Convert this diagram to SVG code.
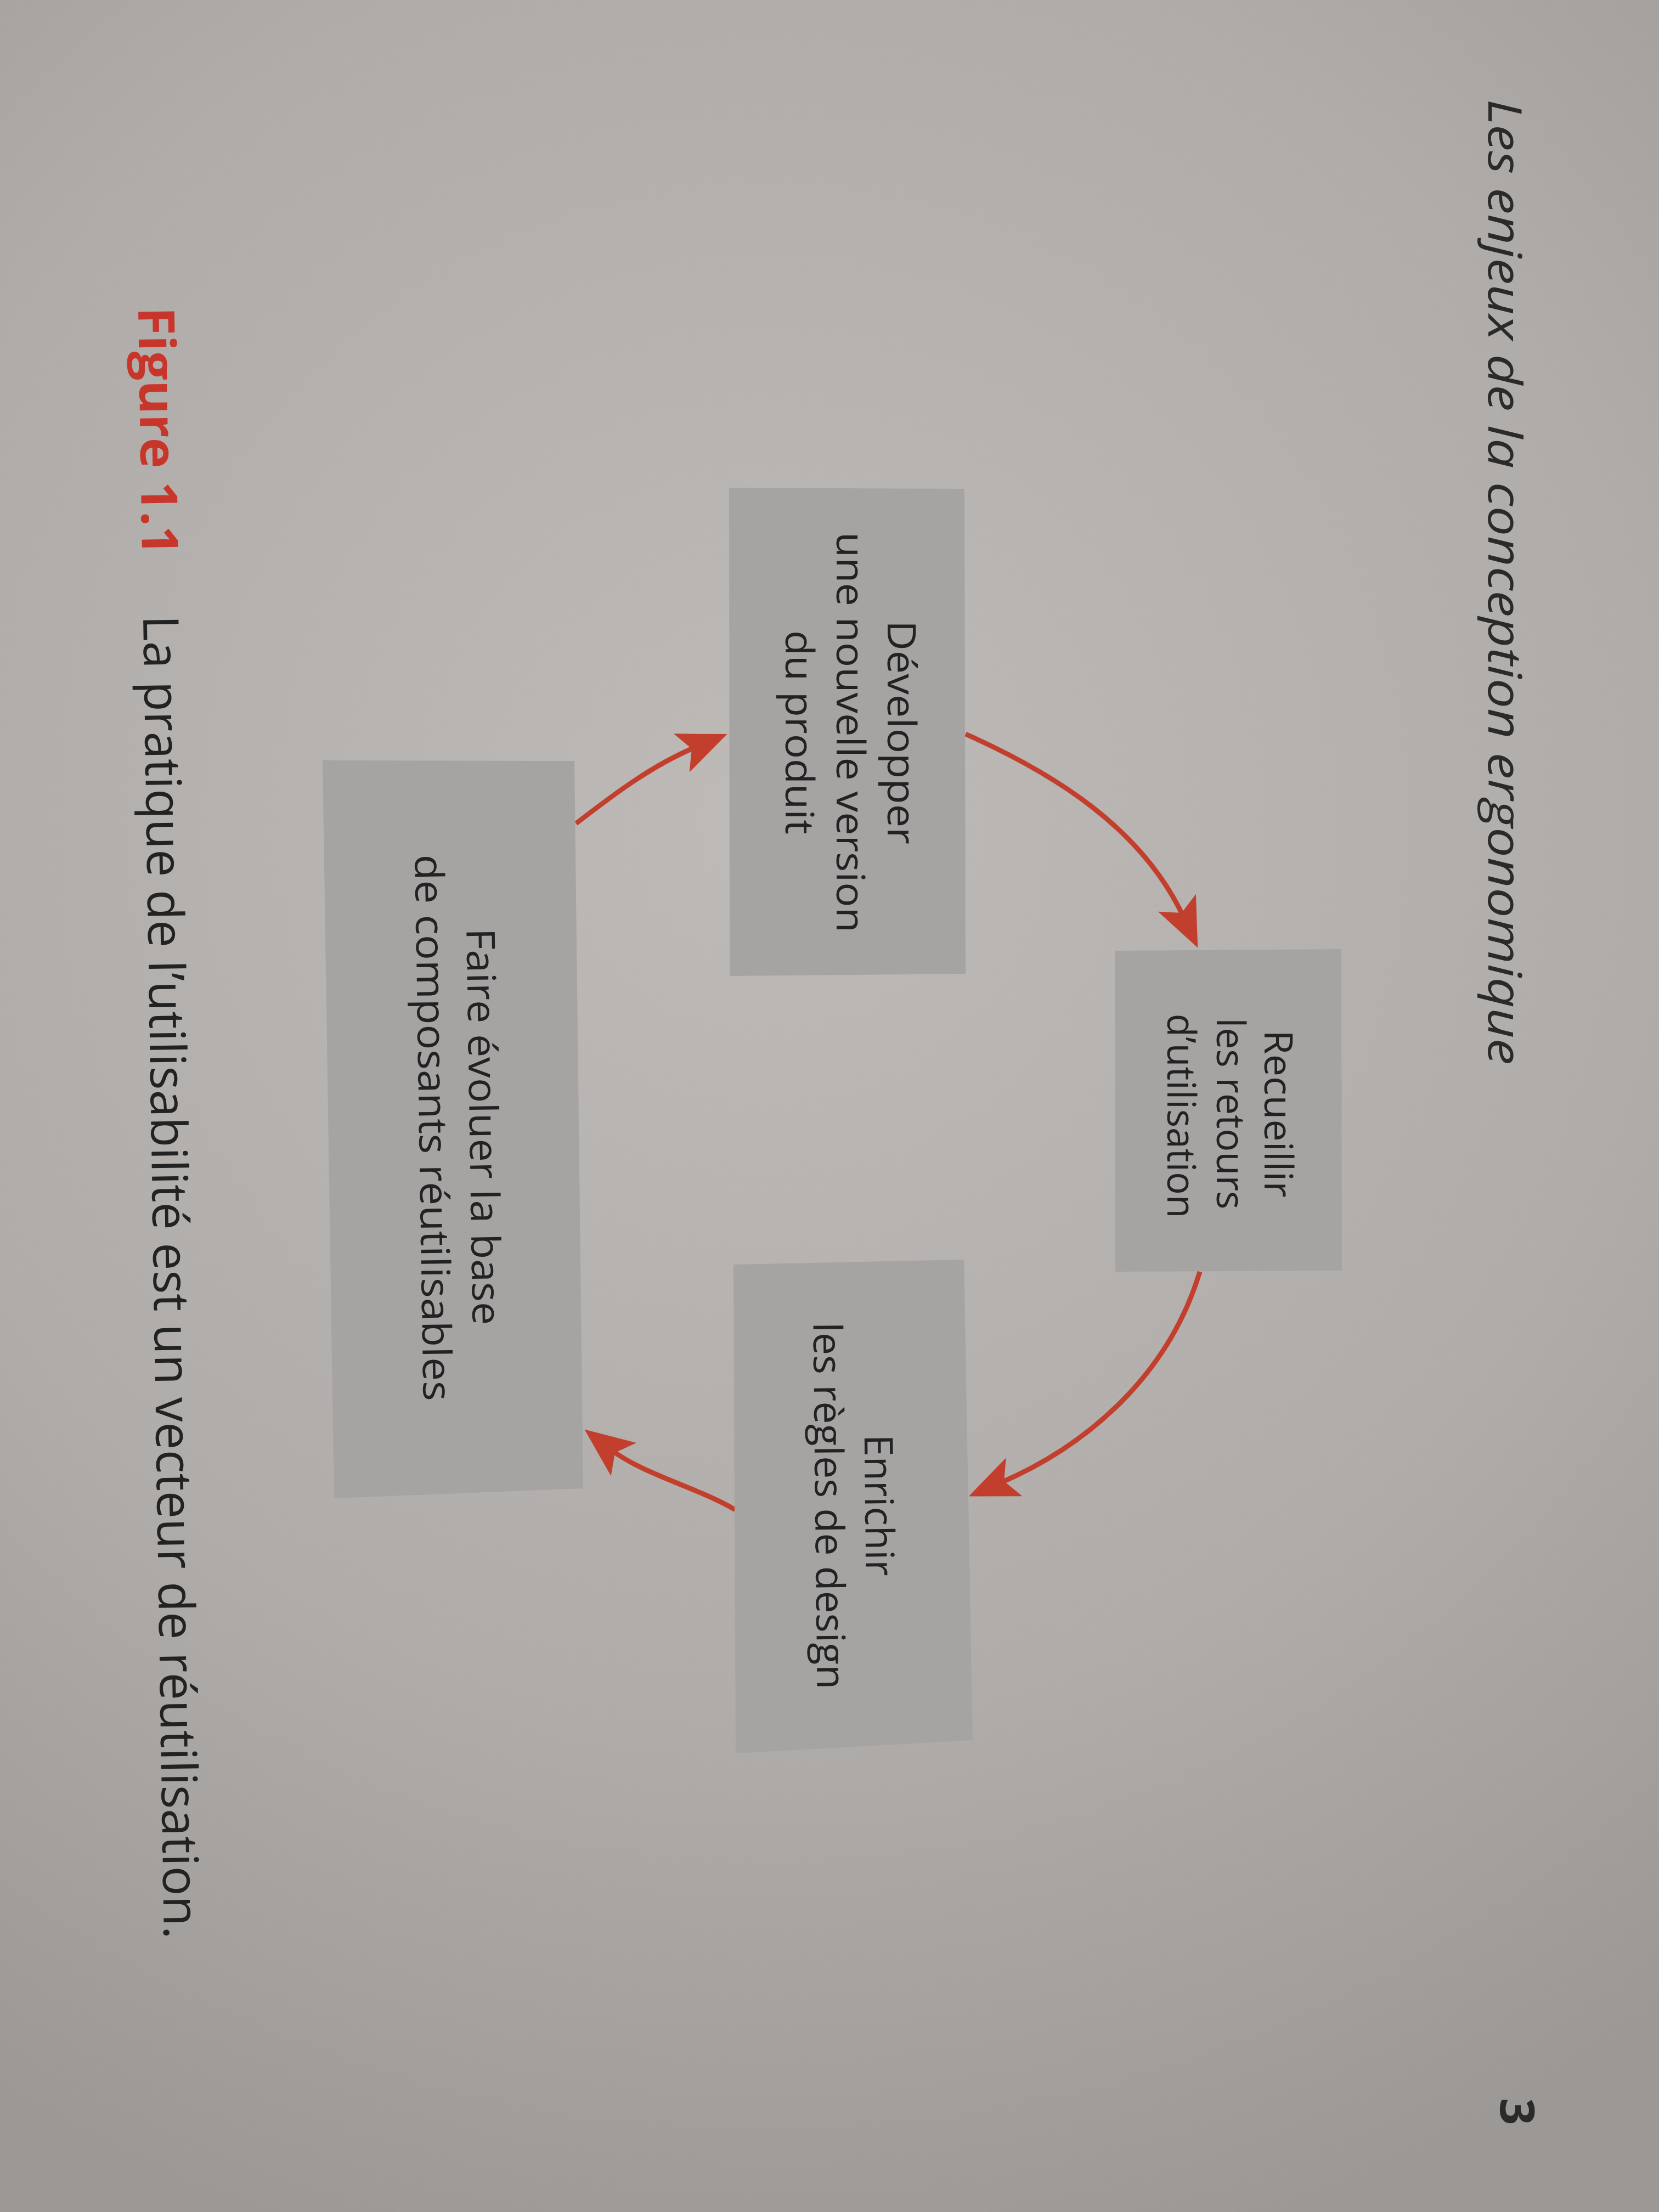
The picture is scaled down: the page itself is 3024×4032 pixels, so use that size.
<svg xmlns="http://www.w3.org/2000/svg" width="3024" height="4032" viewBox="0 0 3024 4032">
<defs>
<radialGradient id="paper" cx="1400" cy="1500" r="2700" gradientUnits="userSpaceOnUse">
<stop offset="0" stop-color="#bebab7"/>
<stop offset="0.6" stop-color="#b0aca9"/>
<stop offset="1" stop-color="#9c9895"/>
</radialGradient>
<marker id="ah" markerUnits="userSpaceOnUse" viewBox="0 -40 92 80" markerWidth="92" markerHeight="80" refX="30" refY="0" orient="auto">
<path d="M90,0 L0,-38 L20,0 L0,38 Z" fill="#c23f2e"/>
</marker>
<style>
.box{fill:#a6a3a3}
.lbl{font-family:"Open Sans","Noto Sans","Liberation Sans",sans-serif;font-size:72px;fill:#222222;text-anchor:middle}
.conn{fill:none;stroke:#c23f2e;stroke-width:9;marker-end:url(#ah)}
.head{font-family:"Open Sans","Noto Sans","Liberation Sans",sans-serif;font-style:italic;font-size:84px;fill:#2a2a2a}
.pnum{font-family:"Open Sans","Noto Sans","Liberation Sans",sans-serif;font-weight:bold;font-size:86px;fill:#2a2a2a;text-anchor:middle}
.figno{font-family:"Open Sans","Noto Sans","Liberation Sans",sans-serif;font-weight:bold;font-size:92px;fill:#c8352b}
.cap{font-family:"Open Sans","Noto Sans","Liberation Sans",sans-serif;font-size:90px;fill:#222222}
</style>
</defs>
<rect width="3024" height="4032" fill="url(#paper)"/>

<g id="page-header">
<text class="head" transform="translate(2713,181) rotate(90)" textLength="1760" lengthAdjust="spacingAndGlyphs">Les enjeux de la conception ergonomique</text>
<text class="pnum" transform="translate(2735,3849) rotate(90)">3</text>
</g>

<g id="connectors">
<path class="conn" d="M1760,1338 C1924,1411 2083,1511 2158,1673"/>
<path class="conn" d="M2187,2318 C2132,2501 1988,2633 1821,2704"/>
<path class="conn" d="M1340,2752 C1276,2713 1173,2688 1113,2642"/>
<path class="conn" d="M1050,1501 C1120,1447 1190,1394 1270,1361"/>
</g>

<g id="node-developper">
<polygon class="box" points="1329,889 1758,891 1760,1775 1330,1779"/>
<text class="lbl" transform="translate(1618,1335) rotate(90)" textLength="408" lengthAdjust="spacingAndGlyphs">Développer</text>
<text class="lbl" transform="translate(1525,1335) rotate(90)" textLength="730" lengthAdjust="spacingAndGlyphs">une nouvelle version</text>
<text class="lbl" transform="translate(1432,1335) rotate(90)" textLength="372" lengthAdjust="spacingAndGlyphs">du produit</text>
</g>

<g id="node-recueillir">
<polygon class="box" points="2032,1733 2445,1730 2446,2316 2033,2318"/>
<text class="lbl" transform="translate(2305,2030) rotate(90)" textLength="305" lengthAdjust="spacingAndGlyphs">Recueillir</text>
<text class="lbl" transform="translate(2218,2030) rotate(90)" textLength="349" lengthAdjust="spacingAndGlyphs">les retours</text>
<text class="lbl" transform="translate(2128,2034) rotate(90)" textLength="373" lengthAdjust="spacingAndGlyphs">d’utilisation</text>
</g>

<g id="node-enrichir">
<polygon class="box" points="1337,2305 1757,2296 1773,3172 1341,3196"/>
<text class="lbl" transform="translate(1577,2744) rotate(89.4)" textLength="258" lengthAdjust="spacingAndGlyphs">Enrichir</text>
<text class="lbl" transform="translate(1486,2745) rotate(89.4)" textLength="669" lengthAdjust="spacingAndGlyphs">les règles de design</text>
</g>

<g id="node-faire">
<polygon class="box" points="588,1386 1047,1387 1063,2713 609,2731"/>
<text class="lbl" transform="translate(856,2054) rotate(89.1)" textLength="723" lengthAdjust="spacingAndGlyphs">Faire évoluer la base</text>
<text class="lbl" transform="translate(764,2056) rotate(89.1)" textLength="996" lengthAdjust="spacingAndGlyphs">de composants réutilisables</text>
</g>

<g id="caption">
<text class="figno" transform="translate(252,560) rotate(89.1)" textLength="453" lengthAdjust="spacingAndGlyphs">Figure 1.1</text>
<text class="cap" transform="translate(261,1122) rotate(89.1)" textLength="2413" lengthAdjust="spacingAndGlyphs">La pratique de l’utilisabilité est un vecteur de réutilisation.</text>
</g>
</svg>
